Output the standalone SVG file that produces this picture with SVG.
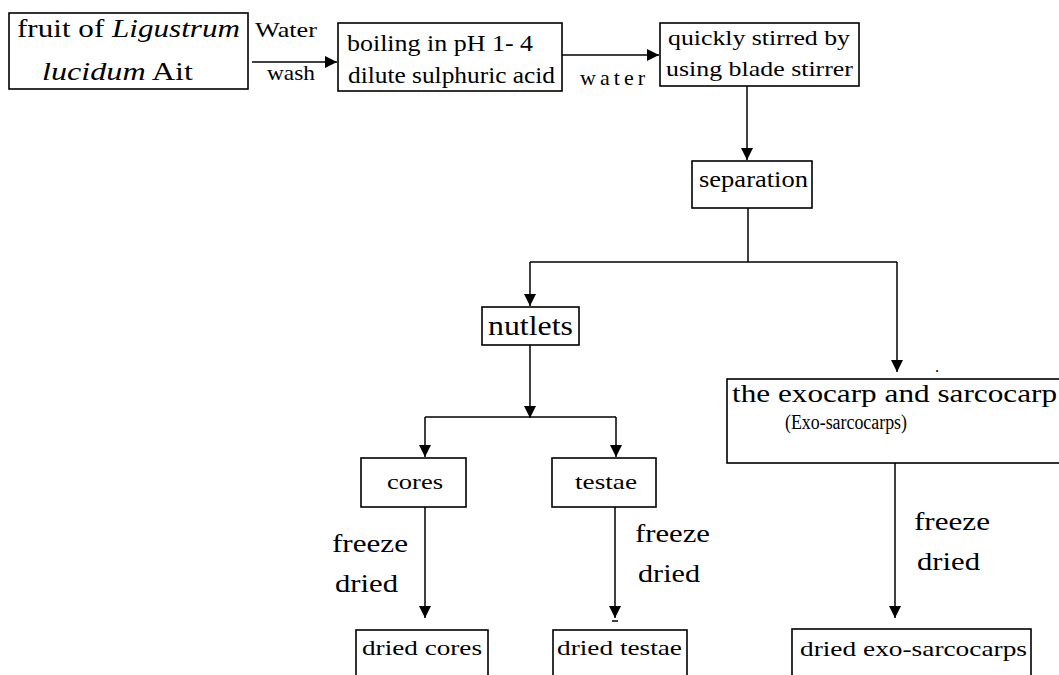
<svg xmlns="http://www.w3.org/2000/svg" width="1059" height="675" viewBox="0 0 1059 675" font-family="'Liberation Serif', 'DejaVu Serif', serif">
<defs>
<marker id="ah" markerUnits="userSpaceOnUse" markerWidth="13" markerHeight="12" refX="12" refY="6" orient="auto" viewBox="0 0 13 12">
<path d="M0,0 L12,6 L0,12 Z" fill="#000"/>
</marker>
<style>
.box{fill:#fff;stroke:#000;stroke-width:1.6}
text{font-family:'Liberation Serif','DejaVu Serif',serif;fill:#000}
.c{stroke:#000;stroke-width:1.5;fill:none}
.a{marker-end:url(#ah)}
</style>
</defs>
<rect width="1059" height="675" fill="#fff"/>
<g id="connectors">
<line class="c a" x1="252" y1="62" x2="337" y2="62"/>
<line class="c a" x1="562" y1="55" x2="659" y2="55"/>
<line class="c a" x1="747" y1="86" x2="747" y2="160"/>
<polyline class="c" points="748,208 748,262"/>
<line class="c" x1="530" y1="262" x2="897" y2="262"/>
<line class="c a" x1="530" y1="262" x2="530" y2="306"/>
<line class="c a" x1="897" y1="262" x2="897" y2="372"/>
<line class="c a" x1="530" y1="345" x2="530" y2="418"/>
<line class="c" x1="425" y1="417" x2="616" y2="417"/>
<line class="c a" x1="425" y1="417" x2="425" y2="457"/>
<line class="c a" x1="616" y1="417" x2="616" y2="457"/>
<line class="c a" x1="425" y1="507" x2="425" y2="618"/>
<line class="c a" x1="615" y1="507" x2="615" y2="618"/>
<line class="c" x1="612" y1="621" x2="618" y2="621"/>
<line class="c a" x1="895" y1="463" x2="895" y2="618"/>
<text x="255" y="37" font-size="21" textLength="62" lengthAdjust="spacingAndGlyphs">Water</text>
<text x="267" y="80" font-size="21" textLength="48" lengthAdjust="spacingAndGlyphs">wash</text>
<text x="580" y="85" font-size="22" textLength="65" lengthAdjust="spacing">water</text>
<text x="332" y="552" font-size="26" textLength="76" lengthAdjust="spacingAndGlyphs">freeze</text>
<text x="335" y="592" font-size="26" textLength="63" lengthAdjust="spacingAndGlyphs">dried</text>
<text x="635" y="542" font-size="26" textLength="75" lengthAdjust="spacingAndGlyphs">freeze</text>
<text x="638" y="582" font-size="26" textLength="62" lengthAdjust="spacingAndGlyphs">dried</text>
<text x="914" y="530" font-size="26" textLength="76" lengthAdjust="spacingAndGlyphs">freeze</text>
<text x="917" y="570" font-size="26" textLength="63" lengthAdjust="spacingAndGlyphs">dried</text>
<text x="935" y="372" font-size="16">.</text>
</g>
<g id="fruit">
<rect class="box" x="9" y="13" width="239" height="76"/>
<text x="17" y="37" font-size="25" textLength="223" lengthAdjust="spacingAndGlyphs">fruit of <tspan font-style="italic">Ligustrum</tspan></text>
<text x="42" y="80" font-size="25" textLength="151" lengthAdjust="spacingAndGlyphs"><tspan font-style="italic">lucidum</tspan> Ait</text>
</g>
<g id="boiling">
<rect class="box" x="338" y="23" width="224" height="68"/>
<text x="347" y="51" font-size="23" textLength="186" lengthAdjust="spacingAndGlyphs">boiling in pH 1- 4</text>
<text x="348" y="83" font-size="23" textLength="207" lengthAdjust="spacingAndGlyphs">dilute sulphuric acid</text>
</g>
<g id="stirred">
<rect class="box" x="660" y="23" width="199" height="63"/>
<text x="668" y="45" font-size="22" textLength="182" lengthAdjust="spacingAndGlyphs">quickly stirred by</text>
<text x="666" y="76" font-size="22" textLength="187" lengthAdjust="spacingAndGlyphs">using blade stirrer</text>
</g>
<g id="separation">
<rect class="box" x="692" y="161" width="120" height="47"/>
<text x="699" y="187" font-size="23" textLength="109" lengthAdjust="spacingAndGlyphs">separation</text>
</g>
<g id="nutlets">
<rect class="box" x="482" y="307" width="97" height="38"/>
<text x="488" y="335" font-size="28" textLength="85" lengthAdjust="spacingAndGlyphs">nutlets</text>
</g>
<g id="exo">
<rect class="box" x="727" y="379" width="340" height="84"/>
<text x="732" y="402" font-size="26" textLength="325" lengthAdjust="spacingAndGlyphs">the exocarp and sarcocarp</text>
<text x="785" y="429" font-size="20" textLength="122" lengthAdjust="spacingAndGlyphs">(Exo-sarcocarps)</text>
</g>
<g id="cores">
<rect class="box" x="361" y="458" width="105" height="49"/>
<text x="387" y="489" font-size="21" textLength="56" lengthAdjust="spacingAndGlyphs">cores</text>
</g>
<g id="testae">
<rect class="box" x="552" y="458" width="104" height="49"/>
<text x="575" y="489" font-size="21" textLength="62" lengthAdjust="spacingAndGlyphs">testae</text>
</g>
<g id="dried-cores">
<rect class="box" x="356" y="630" width="132" height="60"/>
<text x="362" y="655" font-size="22" textLength="120" lengthAdjust="spacingAndGlyphs">dried cores</text>
</g>
<g id="dried-testae">
<rect class="box" x="553" y="630" width="134" height="60"/>
<text x="557" y="655" font-size="22" textLength="125" lengthAdjust="spacingAndGlyphs">dried testae</text>
</g>
<g id="dried-exo">
<rect class="box" x="792" y="629" width="239" height="60"/>
<text x="800" y="656" font-size="22" textLength="227" lengthAdjust="spacingAndGlyphs">dried exo-sarcocarps</text>
</g>
</svg>
